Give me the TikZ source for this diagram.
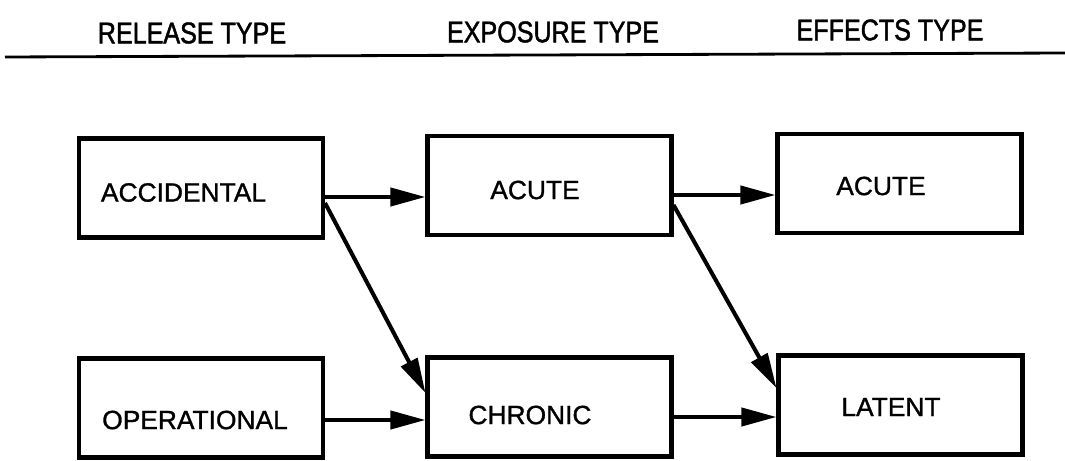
\documentclass[tikz,border=0pt]{standalone}
\usepackage{fontspec}
\setmainfont{Liberation Sans}
\newfontfamily\boxfont[FakeBold=1.2]{Liberation Sans}
\newfontfamily\headfont[FakeStretch=0.84, FakeBold=1.5]{Liberation Sans}
\usetikzlibrary{arrows.meta}

\begin{document}
\begin{tikzpicture}[
  box/.style={draw, line width=2.3pt, minimum width=4.88cm, minimum height=1.98cm, inner sep=0pt},
  boxtext/.style={font=\boxfont\fontsize{15}{18}\selectfont},
  headtext/.style={font=\headfont\fontsize{17}{20}\selectfont},
  arr/.style={line width=2.3pt, -{Triangle[length=0.7cm, width=0.36cm]}}]
\useasboundingbox (0,0) rectangle (21.3,9.2);

\node[headtext] (hrel) at (3.84,8.54) {RELEASE TYPE};
\node[headtext] (hexp) at (11.06,8.56) {EXPOSURE TYPE};
\node[headtext] (heff) at (17.8,8.6) {EFFECTS TYPE};
\draw[line width=1.6pt] (0.1,8.06) -- (21.3,8.14);

\node[box] (acc) at (4.02,5.44) {};
\node[boxtext] (acctext) at (3.67,5.35) {ACCIDENTAL};
\node[box] (oper) at (4.02,1.04) {};
\node[boxtext] (opertext) at (3.9,0.8) {OPERATIONAL};

\node[box] (acutex) at (10.99,5.49) {};
\node[boxtext] (acutextext) at (10.7,5.4) {ACUTE};
\node[box] (chron) at (10.99,1.06) {};
\node[boxtext] (chrontext) at (10.6,0.9) {CHRONIC};

\node[box] (acutef) at (17.99,5.53) {};
\node[boxtext] (acuteftext) at (17.62,5.48) {ACUTE};
\node[box] (latent) at (18.01,1.1) {};
\node[boxtext] (latenttext) at (17.82,1.06) {LATENT};

\draw[arr] ([yshift=-0.18cm]acc.east) -- ([yshift=-0.18cm]acc.east -| acutex.west);
\draw[arr] ([yshift=-0.3cm]acc.east) -- ([yshift=0.28cm]chron.west);
\draw[arr] ([yshift=-0.24cm]oper.east) -- ([yshift=-0.24cm]oper.east -| chron.west);

\draw[arr] ([yshift=-0.19cm]acutex.east) -- ([yshift=-0.19cm]acutex.east -| acutef.west);
\draw[arr] ([yshift=-0.39cm]acutex.east) -- ([yshift=0.34cm]latent.west);
\draw[arr] ([yshift=-0.2cm]chron.east) -- ([yshift=-0.2cm]chron.east -| latent.west);
\end{tikzpicture}
\end{document}
